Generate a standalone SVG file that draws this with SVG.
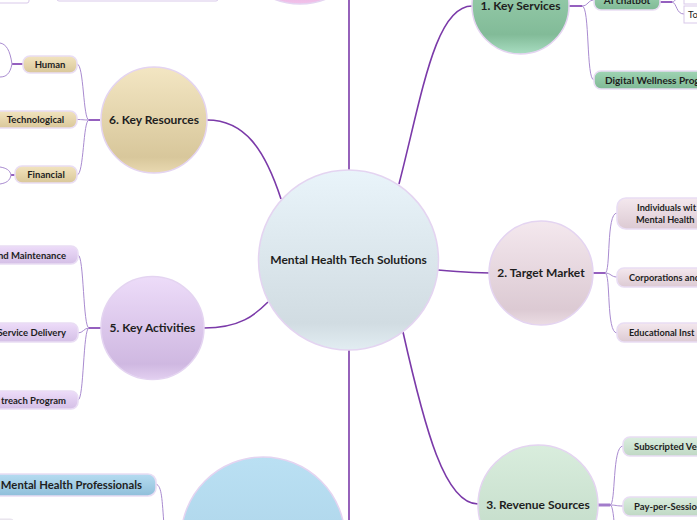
<svg xmlns="http://www.w3.org/2000/svg" width="697" height="520" viewBox="0 0 697 520">
<style>
.main{fill:none;stroke:#7b3aa9;stroke-width:1.6}
.sub{fill:none;stroke:#a98bd0;stroke-width:1}
.stub{fill:none;stroke:#8a4fb8;stroke-width:1.8}
.circ{stroke:#e4d4f1;stroke-width:1.5}
.pill{stroke:#e9ddf4;stroke-width:1.6}
.box{fill:#fff;stroke:#d9c9ea;stroke-width:1}
text{font-family:Lato,"Liberation Sans",sans-serif;font-weight:bold;fill:#1e1e1e}
.nt{font-size:12px;text-anchor:middle}
.ct{font-size:9.5px}
.c{text-anchor:middle}
.e{text-anchor:end}
</style>
<defs>
<linearGradient id="gCenter" x1="0" y1="0" x2="0" y2="1"><stop offset="0" stop-color="#e9f4fa"/><stop offset="0.85" stop-color="#d1dce2"/><stop offset="1" stop-color="#e2edf2"/></linearGradient>
<linearGradient id="gTan" x1="0" y1="0" x2="0" y2="1"><stop offset="0" stop-color="#f3e6c3"/><stop offset="0.85" stop-color="#d8c79b"/><stop offset="1" stop-color="#e9d9b1"/></linearGradient>
<linearGradient id="gLav" x1="0" y1="0" x2="0" y2="1"><stop offset="0" stop-color="#eddcf9"/><stop offset="0.85" stop-color="#cfb8e1"/><stop offset="1" stop-color="#e2cff0"/></linearGradient>
<linearGradient id="gPink" x1="0" y1="0" x2="0" y2="1"><stop offset="0" stop-color="#f4e8ee"/><stop offset="0.85" stop-color="#dccad3"/><stop offset="1" stop-color="#ebdce3"/></linearGradient>
<linearGradient id="gGreen" x1="0" y1="0" x2="0" y2="1"><stop offset="0" stop-color="#a3d6b6"/><stop offset="0.8" stop-color="#82bb98"/><stop offset="1" stop-color="#a8ddc1"/></linearGradient>
<linearGradient id="gLGreen" x1="0" y1="0" x2="0" y2="1"><stop offset="0" stop-color="#d9eddd"/><stop offset="0.85" stop-color="#c2dbc8"/><stop offset="1" stop-color="#d3e9d8"/></linearGradient>
<linearGradient id="gBlue" x1="0" y1="0" x2="0" y2="1"><stop offset="0" stop-color="#bae0f3"/><stop offset="1" stop-color="#a6cee4"/></linearGradient>
<linearGradient id="gPinkTop" x1="0" y1="0" x2="0" y2="1"><stop offset="0" stop-color="#e59bd8"/><stop offset="0.85" stop-color="#e6a3da"/><stop offset="1" stop-color="#f1c3ea"/></linearGradient>
<linearGradient id="pTan" x1="0" y1="0" x2="0" y2="1"><stop offset="0" stop-color="#f2e4bf"/><stop offset="1" stop-color="#d9c799"/></linearGradient>
<linearGradient id="pLav" x1="0" y1="0" x2="0" y2="1"><stop offset="0" stop-color="#eddcf9"/><stop offset="1" stop-color="#d4bfe6"/></linearGradient>
<linearGradient id="pPink" x1="0" y1="0" x2="0" y2="1"><stop offset="0" stop-color="#f4e8ee"/><stop offset="1" stop-color="#dccad3"/></linearGradient>
<linearGradient id="pGreen" x1="0" y1="0" x2="0" y2="1"><stop offset="0" stop-color="#9fd4b3"/><stop offset="1" stop-color="#7fb995"/></linearGradient>
<linearGradient id="pLGreen" x1="0" y1="0" x2="0" y2="1"><stop offset="0" stop-color="#dbeedf"/><stop offset="1" stop-color="#bfd8c4"/></linearGradient>
<linearGradient id="pBlue" x1="0" y1="0" x2="0" y2="1"><stop offset="0" stop-color="#b6dcf1"/><stop offset="1" stop-color="#90bfda"/></linearGradient>
</defs>

<g id="connectors">
<path class="main" d="M349,170 L349,0"/>
<path class="main" d="M349,350 L349,520"/>
<path class="main" d="M399,184 C422,95 435,6 472,6"/>
<path class="main" d="M438,270 C465,272 465,273 490,273"/>
<path class="main" d="M403,332 C425,430 445,504 478,504"/>
<path class="main" d="M281,199 C265,150 245,120 207,120"/>
<path class="main" d="M204,328 C240,328 255,315 268,302"/>
<path class="stub" d="M569,6 L582,6"/>
<path class="sub" d="M582,6 C588,6 588,0 594,0"/>
<path class="sub" d="M582,6 C590,6 586,80 594,80"/>
<path class="stub" d="M660,2 L672,2"/>
<path class="sub" d="M672,2 C676,2 676,-5 684,-5"/>
<path class="sub" d="M672,2 C677,3 676,14 684,14"/>
<path class="stub" d="M593,273 L605,273"/>
<path class="sub" d="M605,273 C611,273 606,213 617,213"/>
<path class="sub" d="M605,273 C611,273 611,277 617,277"/>
<path class="sub" d="M605,273 C611,273 606,333 617,333"/>
<path class="stub" d="M598,505 L610,505" style="stroke:#a27ccb;stroke-width:3"/>
<path class="sub" d="M610,505 C616,505 612,446 623,446"/>
<path class="sub" d="M610,505 C616,505 616,506 623,506"/>
<path class="sub" d="M610,505 C616,505 613,560 623,560"/>
<path class="stub" d="M100,120 L89,120"/>
<path class="sub" d="M89,120 C83,120 84,64 77,64"/>
<path class="sub" d="M89,120 C83,120 83,119.5 77,119.5"/>
<path class="sub" d="M89,120 C83,120 84,175 77,175"/>
<path class="stub" d="M23,64 L12,64"/>
<path class="sub" d="M12,64 C10,50 6,44 0,43"/>
<path class="sub" d="M12,64 C10,74 6,77 0,77"/>
<path class="stub" d="M15,175 L11,175"/>
<path class="sub" d="M11,175 C10,170 6,168 0,167"/>
<path class="sub" d="M11,175 C10,181 6,183 0,184"/>
<path class="stub" d="M101,328 L89,328"/>
<path class="sub" d="M89,328 C83,328 84,255 78,255"/>
<path class="sub" d="M89,328 C84,328 83,333 78,333"/>
<path class="sub" d="M89,328 C83,328 84,400 78,400"/>
<path class="sub" d="M156,484 C162,486 162,500 164,525"/>
</g>

<g id="top-items">
<rect class="box" x="-10" y="-20" width="39" height="23" rx="2"/>
<rect class="box" x="57" y="-20" width="161" height="21" rx="2"/>
<circle cx="300" cy="-64" r="68" fill="url(#gPinkTop)" class="circ"/>
</g>

<g id="center">
<circle cx="348.5" cy="260" r="90" fill="url(#gCenter)" class="circ"/>
<text class="nt" x="348.5" y="264">Mental Health Tech Solutions</text>
</g>

<g id="n1-key-services">
<circle cx="520.5" cy="5.5" r="48.5" fill="url(#gGreen)" class="circ"/>
<text class="nt" x="520.5" y="10">1. Key Services</text>
</g>
<g id="n1-ai-chatbot">
<rect class="pill" x="594" y="-9" width="66" height="19" rx="7" fill="url(#pGreen)"/>
<text class="ct c" x="627" y="4" style="font-size:10px">AI chatbot</text>
</g>
<g id="n1-upper-box"><rect class="box" x="684" y="-14" width="30" height="18"/></g>
<g id="n1-to">
<rect class="box" x="684" y="6" width="30" height="17"/>
<text x="688" y="18" style="font-size:9.5px;font-weight:normal">To</text>
</g>
<g id="n1-digital">
<rect class="pill" x="594" y="71" width="130" height="18" rx="7" fill="url(#pGreen)"/>
<text class="ct" x="605" y="84" style="font-size:10px">Digital Wellness Prog</text>
</g>

<g id="n2-target-market">
<circle cx="541" cy="273" r="52" fill="url(#gPink)" class="circ"/>
<text class="nt" x="541" y="277">2. Target Market</text>
</g>
<g id="n2-individuals">
<rect class="pill" x="617" y="198" width="120" height="31" rx="9" fill="url(#pPink)"/>
<text class="ct" x="637" y="211" style="font-size:9.2px">Individuals wit</text>
<text class="ct" x="636" y="223" style="font-size:9.2px">Mental Health</text>
</g>
<g id="n2-corporations">
<rect class="pill" x="617" y="268" width="100" height="19" rx="7" fill="url(#pPink)"/>
<text class="ct" x="629" y="281" style="font-size:9.2px">Corporations and</text>
</g>
<g id="n2-educational">
<rect class="pill" x="617" y="323" width="100" height="19" rx="7" fill="url(#pPink)"/>
<text class="ct" x="629" y="336" style="font-size:9.2px">Educational Inst</text>
</g>

<g id="n3-revenue">
<circle cx="538" cy="505" r="60" fill="url(#gLGreen)" class="circ"/>
<text class="nt" x="538" y="509">3. Revenue Sources</text>
</g>
<g id="n3-subscripted">
<rect class="pill" x="623" y="437" width="90" height="19" rx="7" fill="url(#pLGreen)"/>
<text class="ct" x="634" y="450">Subscripted Ve</text>
</g>
<g id="n3-pay">
<rect class="pill" x="623" y="497" width="90" height="19" rx="7" fill="url(#pLGreen)"/>
<text class="ct" x="634" y="510">Pay-per-Sessio</text>
</g>

<g id="n4-bottom">
<circle cx="263" cy="539" r="82" fill="url(#gBlue)" class="circ"/>
</g>
<g id="n4-professionals">
<rect class="pill" x="-20" y="474" width="176" height="22" rx="8" fill="url(#pBlue)"/>
<text class="e" x="142" y="489" style="font-size:11.3px">Mental Health Professionals</text>
</g>
<g id="n4-other"><rect x="-20" y="519" width="35" height="18" rx="5" fill="#eceaee" stroke="#e6e0ec"/></g>

<g id="n5-key-activities">
<circle cx="152.5" cy="328" r="51.5" fill="url(#gLav)" class="circ"/>
<text class="nt" x="152.5" y="332">5. Key Activities</text>
</g>
<g id="n5-maintenance">
<rect class="pill" x="-40" y="246" width="118" height="18" rx="7" fill="url(#pLav)"/>
<text class="ct e" x="66" y="258.5">nd Maintenance</text>
</g>
<g id="n5-service">
<rect class="pill" x="-40" y="323" width="118" height="19" rx="7" fill="url(#pLav)"/>
<text class="ct e" x="66" y="336">Service Delivery</text>
</g>
<g id="n5-outreach">
<rect class="pill" x="-40" y="391" width="118" height="18" rx="7" fill="url(#pLav)"/>
<text class="ct e" x="66" y="404">treach Program</text>
</g>

<g id="n6-key-resources">
<circle cx="154" cy="120" r="53" fill="url(#gTan)" class="circ"/>
<text class="nt" x="154" y="124">6. Key Resources</text>
</g>
<g id="n6-human">
<rect class="pill" x="23" y="56" width="54" height="17" rx="7" fill="url(#pTan)"/>
<text class="ct c" x="50" y="68">Human</text>
</g>
<g id="n6-tech">
<rect class="pill" x="-6" y="111" width="83" height="17" rx="7" fill="url(#pTan)"/>
<text class="ct c" x="35.5" y="123">Technological</text>
</g>
<g id="n6-financial">
<rect class="pill" x="15" y="166" width="62" height="17" rx="7" fill="url(#pTan)"/>
<text class="ct c" x="46" y="178">Financial</text>
</g>
</svg>
